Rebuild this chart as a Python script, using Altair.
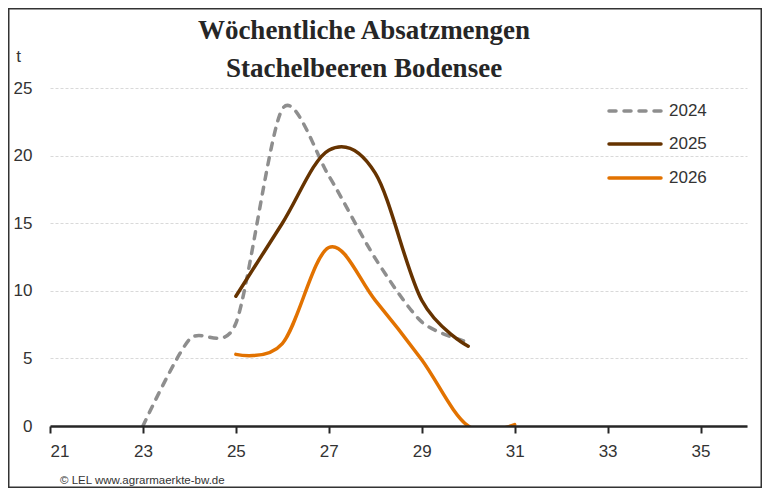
import altair as alt
import pandas as pd

# ---- data ----
years = ["2024", "2025", "2026"]
weeks_2024 = [23, 24, 25, 26, 27, 28, 29, 30]
vals_2024 = [0.0, 6.4, 7.6, 23.45, 18.5, 12.4, 7.7, 6.2]
weeks_2025 = [25, 26, 27, 28, 29, 30]
vals_2025 = [9.6, 15.0, 20.4, 18.7, 9.3, 5.9]
weeks_2026 = [25, 26, 27, 28, 29, 30, 31]
vals_2026 = [5.3, 6.1, 13.2, 9.3, 4.9, 0.0, 0.1]
x_ticks = [21, 23, 25, 27, 29, 31, 33, 35]
y_ticks = [0, 5, 10, 15, 20, 25]
title_lines = ["Wöchentliche Absatzmengen", "Stachelbeeren Bodensee"]
footer = "© LEL www.agrarmaerkte-bw.de"
unit = "t"

# ---- styles ----
colors = ["#8e8e8e", "#663300", "#e27200"]
dashes = [[7, 8], None, None]
tensions = [0.2, 0.0, 0.0]
FONT = "Liberation Sans, Arial, sans-serif"
TXT = "#333333"

W, H = 697, 338

x_scale = alt.Scale(domain=[21, 36], nice=False, zero=False)
y_scale = alt.Scale(domain=[0, 25], nice=False)
x_axis = alt.Axis(values=x_ticks, format="d", title=None, grid=False,
                  domainColor="#262626", domainWidth=2.5,
                  tickColor="#262626", tickWidth=2, tickSize=7,
                  labelFont=FONT, labelFontSize=17, labelColor=TXT,
                  labelPadding=10, zindex=1)
y_axis = alt.Axis(values=y_ticks, title=unit, titleAngle=0, titleX=-32, titleY=-32,
                  titleAlign="center", titleBaseline="middle", titleFont=FONT,
                  titleFontSize=17, titleFontWeight="normal", titleColor=TXT,
                  domain=False, ticks=False, grid=True, gridColor="#d9d9d9",
                  gridDash=[3, 2], gridWidth=1, labelFont=FONT, labelFontSize=17,
                  labelColor=TXT, labelPadding=18)

series = [(weeks_2024, vals_2024), (weeks_2025, vals_2025), (weeks_2026, vals_2026)]
layers = []
for i, (w, v) in enumerate(series):
    df = pd.DataFrame({"week": w, "value": v, "year": years[i]})
    mk = dict(interpolate="cardinal", tension=tensions[i], color=colors[i],
              strokeWidth=3.5, strokeCap="round", clip=True)
    if dashes[i]:
        mk["strokeDash"] = dashes[i]
    layers.append(
        alt.Chart(df).mark_line(**mk).encode(
            x=alt.X("week:Q", scale=x_scale, axis=x_axis),
            y=alt.Y("value:Q", scale=y_scale, axis=y_axis),
        )
    )

# ---- legend ----
legend_y = [23, 56, 90]
for i, yr in enumerate(years):
    ldf = pd.DataFrame({"year": [yr]})
    mk = dict(color=colors[i], strokeWidth=3.5, strokeCap="round")
    if dashes[i]:
        mk["strokeDash"] = dashes[i]
    layers.append(alt.Chart(ldf).mark_rule(**mk).encode(
        x=alt.value(559), x2=alt.value(611), y=alt.value(legend_y[i])))
    layers.append(alt.Chart(ldf).mark_text(
        align="left", baseline="middle", font=FONT, fontSize=17, color=TXT
    ).encode(x=alt.value(619), y=alt.value(legend_y[i]), text="year:N"))

# ---- title ----
title_y = [-49, -11]
for i, t in enumerate(title_lines):
    tdf = pd.DataFrame({"t": [t]})
    layers.append(alt.Chart(tdf).mark_text(
        align="center", baseline="alphabetic", font="Liberation Serif, serif",
        fontSize=27, fontWeight="bold", color="#262626"
    ).encode(x=alt.value(314), y=alt.value(title_y[i]), text="t:N"))

# ---- footer ----
fdf = pd.DataFrame({"t": [footer]})
layers.append(alt.Chart(fdf).mark_text(
    align="left", baseline="middle", font=FONT, fontSize=11.5, color=TXT
).encode(x=alt.value(10), y=alt.value(393), text="t:N"))

# ---- frame ----
bdf = pd.DataFrame({"k": [0]})
layers.append(alt.Chart(bdf).mark_rect(
    fillOpacity=0, stroke="#333333", strokeWidth=1.5
).encode(x=alt.value(-41.25), x2=alt.value(711.25), y=alt.value(-79.25), y2=alt.value(399.25)))

chart = alt.layer(*layers).properties(
    width=W, height=H,
    autosize=alt.AutoSizeParams(type="none"),
    padding={"left": 42, "top": 80, "right": 15, "bottom": 62},
    background="white",
).configure_view(stroke=None)

chart.save("out.html", embed_options={"renderer": "svg", "actions": False})
